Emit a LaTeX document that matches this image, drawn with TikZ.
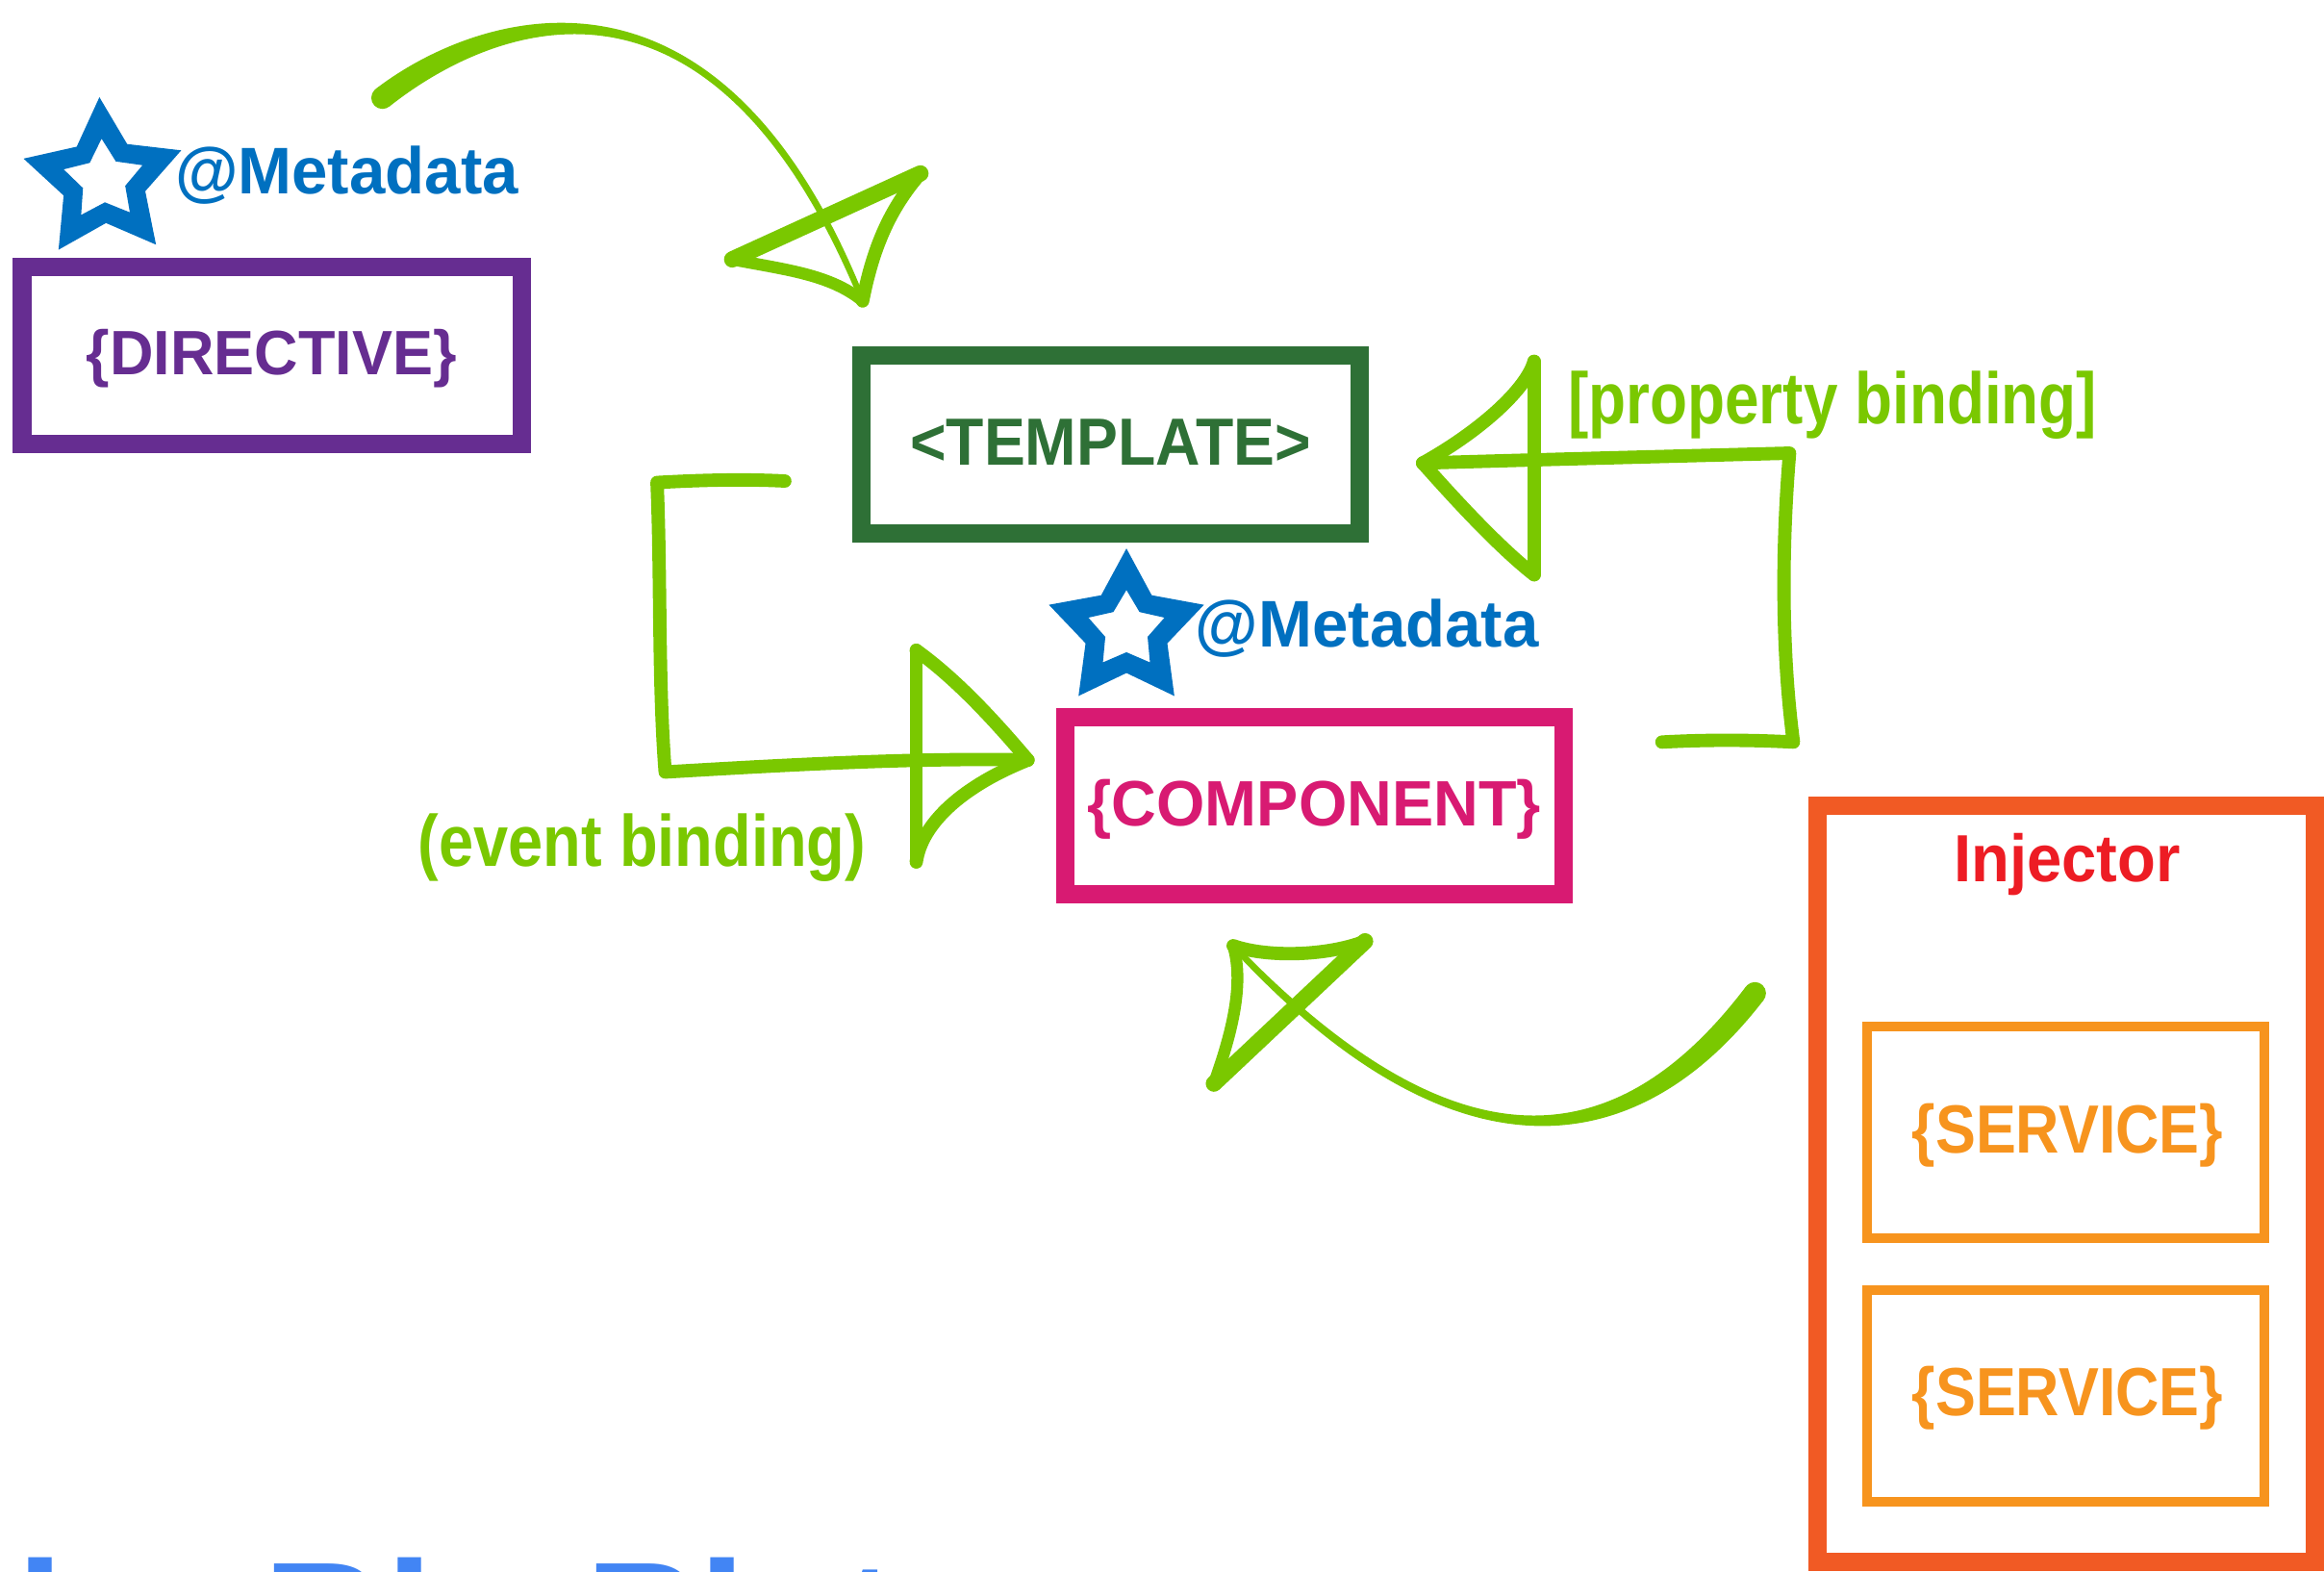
\documentclass[tikz,border=0pt]{standalone}
\usepackage{fontspec}
\setmainfont{Liberation Sans}
\usetikzlibrary{calc}
\definecolor{metablue}{RGB}{0,112,192}
\definecolor{dirpurple}{RGB}{102,45,145}
\definecolor{tplgreen}{RGB}{46,112,54}
\definecolor{cmpmagenta}{RGB}{216,26,114}
\definecolor{injorange}{RGB}{241,90,36}
\definecolor{injred}{RGB}{237,28,36}
\definecolor{svcorange}{RGB}{247,148,30}
\definecolor{arrgreen}{RGB}{122,200,0}
\definecolor{bigblue}{RGB}{66,133,244}
\newcommand\fsz[1]{\fontsize{#1}{#1}\selectfont\bfseries}
\newcommand\sqz[2]{\scalebox{#1}[1]{#2}}
\begin{document}
\begin{tikzpicture}[x=1pt,y=-1pt,
  box/.style={draw, rectangle, inner sep=0pt, line width=12.4pt},
  lbl/.style={inner sep=0pt, anchor=base},
  lblw/.style={inner sep=0pt, anchor=base west},
  gline/.style={draw=arrgreen, line width=9pt, line cap=round, line join=round},
  star/.style={fill=metablue, even odd rule}]
\useasboundingbox (0,0) rectangle (1568,1060);
\clip (0,0) rectangle (1568,1060);
\fill[white] (0,0) rectangle (1568,1060);

% ---- boxes ----
\node[box, draw=dirpurple, minimum width=336.9pt, minimum height=119.6pt] (directive) at (183.4,240) {};
\node[lbl, text=dirpurple, font=\fsz{42.3}] (directivelbl) at (183.2,253.1) {\sqz{0.966}{\{DIRECTIVE\}}};

\node[box, draw=tplgreen, minimum width=336.2pt, minimum height=119.8pt] (template) at (749.3,299.9) {};
\node[lbl, text=tplgreen, font=\fsz{45}] (templatelbl) at (749.3,313.7) {\sqz{0.927}{<TEMPLATE>}};

\node[box, draw=cmpmagenta, minimum width=336.2pt, minimum height=119.4pt] (component) at (886.7,543.6) {};
\node[lbl, text=cmpmagenta, font=\fsz{43.3}] (componentlbl) at (886.7,557.2) {\sqz{0.97}{\{COMPONENT\}}};

\node[box, draw=injorange, line width=12.5pt, minimum width=335.5pt, minimum height=510pt] (injector) at (1394,798.75) {};
\node[lbl, text=injred, font=\fsz{45}] (injectorlbl) at (1394.8,595) {\sqz{0.94}{Injector}};

\node[box, draw=svcorange, line width=6.5pt, minimum width=268pt, minimum height=142.8pt] (service1) at (1393.75,763.65) {};
\node[lbl, text=svcorange, font=\fsz{46}] (service1lbl) at (1395,777.7) {\sqz{0.886}{\{SERVICE\}}};
\node[box, draw=svcorange, line width=6.5pt, minimum width=268pt, minimum height=142.8pt] (service2) at (1393.75,941.7) {};
\node[lbl, text=svcorange, font=\fsz{46}] (service2lbl) at (1395,955.1) {\sqz{0.886}{\{SERVICE\}}};

% ---- metadata stars and labels ----
\begin{scope}[shift={(70,121.5)}, rotate=3]
\fill[star] (-90:56) -- (-54:29) -- (-18:56) -- (18:29) -- (54:56) -- (90:29) -- (126:56) -- (162:29) -- (198:56) -- (234:29) -- cycle
  (-90:28) -- (-54:15) -- (-18:28) -- (18:15) -- (54:28) -- (90:15) -- (126:28) -- (162:15) -- (198:28) -- (234:15) -- cycle;
\end{scope}
\node[lblw, text=metablue, font=\fsz{44.5}] (meta1) at (118,131) {\sqz{0.98}{@Metadata}};

\begin{scope}[shift={(760,425)}]
\fill[star] (-90:55) -- (-54:29) -- (-18:55) -- (18:29) -- (54:55) -- (90:29) -- (126:55) -- (162:29) -- (198:55) -- (234:29) -- cycle
  (-90:27) -- (-54:15) -- (-18:27) -- (18:15) -- (54:27) -- (90:15) -- (126:27) -- (162:15) -- (198:27) -- (234:15) -- cycle;
\end{scope}
\node[lblw, text=metablue, font=\fsz{44.5}] (meta2) at (806.5,436.2) {\sqz{0.98}{@Metadata}};

% ---- binding labels ----
\node[lbl, text=arrgreen, font=\fsz{49}] (eventlbl) at (433.2,584.1) {\sqz{0.86}{(event binding)}};
\node[lbl, text=arrgreen, font=\fsz{49}] (propertylbl) at (1236.5,285.6) {\sqz{0.846}{[property binding]}};

% ---- top curved arrow ----
\coordinate (tStart) at (258,66);
\coordinate (tTip) at (582,203);
\coordinate (tA) at (494,175);
\coordinate (tB) at (621,117);
\fill[arrgreen] ($(tStart)+(-4.62,-5.91)$) .. controls (317.7,10.5) and (483.2,-51.3) .. ($(tTip)+(1.85,-0.75)$) -- ($(tTip)+(-1.85,0.75)$) .. controls (476.8,-48.7) and (326.3,21.5) .. ($(tStart)+(4.62,5.91)$) -- cycle;
\fill[arrgreen] (tStart) circle[radius=7.5pt];
\draw[gline, line width=11pt] (tA) -- (tB);
\draw[gline, line width=8pt] (tA) .. controls (530,182) and (560,185) .. (tTip);
\draw[gline, line width=9pt] (tB) .. controls (603,138) and (590,162) .. (tTip);

% ---- bottom curved arrow ----
\coordinate (bStart) at (1184,670);
\coordinate (bTip) at (832,638);
\coordinate (bR) at (921,635);
\coordinate (bB) at (819,731);
\fill[arrgreen] ($(bStart)+(5.96,4.55)$) .. controls (1105.6,784.25) and (981.7,803.1) .. ($(bTip)+(-1.45,1.37)$) -- ($(bTip)+(1.45,-1.37)$) .. controls (988.3,796.9) and (1094.4,775.75) .. ($(bStart)+(-5.96,-4.55)$) -- cycle;
\fill[arrgreen] (bStart) circle[radius=7.5pt];
\draw[gline, line width=9pt] (bTip) .. controls (855,646) and (895,645) .. (bR);
\draw[gline, line width=11pt] (bR) -- (bB);
\draw[gline, line width=8pt] (bTip) .. controls (840,665) and (830,700) .. (bB);

% ---- event binding bracket ----
\coordinate (evStart) at (529.5,324.5);
\coordinate (evC1) at (443.3,325.5);
\coordinate (evC2) at (448.8,520.8);
\coordinate (evTip) at (693.5,512.7);
\coordinate (evTop) at (618.2,438.7);
\coordinate (evBot) at (618.2,581.4);
\draw[gline] (evStart) .. controls (500,323) and (470,324) .. (evC1) .. controls (446,390) and (444,460) .. (evC2) .. controls (530,516) and (620,511) .. (evTip);
\draw[gline] (evTop) -- (evBot);
\draw[gline] (evTop) .. controls (645,458) and (670,485) .. (evTip);
\draw[gline] (evBot) .. controls (622,555) and (650,530) .. (evTip);

% ---- property binding bracket ----
\coordinate (prStart) at (1121.3,500.6);
\coordinate (prC1) at (1210,500.6);
\coordinate (prC2) at (1207.4,305.7);
\coordinate (prTip) at (959.9,312.4);
\coordinate (prTop) at (1035,243.8);
\coordinate (prBot) at (1035,387.7);
\draw[gline] (prStart) .. controls (1150,499) and (1180,499) .. (prC1) .. controls (1202,440) and (1202,370) .. (prC2) .. controls (1120,308) and (1040,310) .. (prTip);
\draw[gline] (prTop) -- (prBot);
\draw[gline] (prTop) .. controls (1030,262) and (1000,290) .. (prTip);
\draw[gline] (prBot) .. controls (1010,368) and (980,335) .. (prTip);

% ---- big title, cut by the lower edge as in the reference ----
\node[lblw, text=bigblue, font=\fsz{115}] (bigtitle) at (-27,1134) {the Big Picture};
\end{tikzpicture}
\end{document}
